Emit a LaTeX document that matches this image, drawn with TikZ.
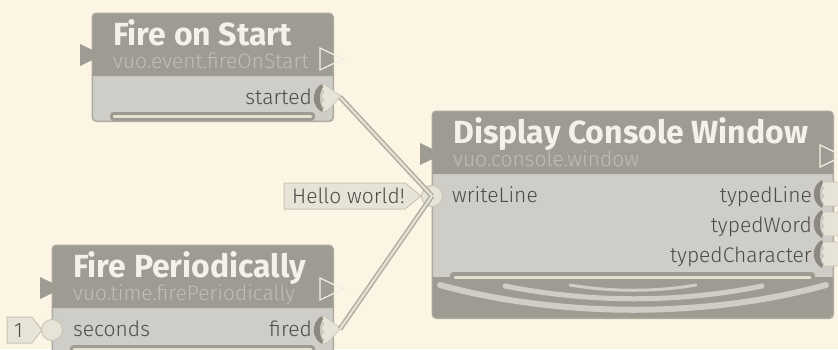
\documentclass[tikz,border=0pt]{standalone}
\usepackage{fontspec}
\setmainfont{Fira Sans}
\newfontfamily\lightfont{Fira Sans Light}
\definecolor{bg}{HTML}{FCF5E3}
\definecolor{hdr}{HTML}{9E9B93}
\definecolor{bodyc}{HTML}{CFCDC7}
\definecolor{edgec}{HTML}{ADAAA1}
\definecolor{ttl}{HTML}{F3F1EB}
\definecolor{subc}{HTML}{C0BDB5}
\definecolor{lbl}{HTML}{4C4B48}
\definecolor{pfill}{HTML}{E7E3D7}
\definecolor{pedge}{HTML}{C9C5B7}
\definecolor{arcc}{HTML}{8C8982}
\definecolor{cabedge}{HTML}{ABA79D}
\definecolor{cabcore}{HTML}{E3DFD1}
\definecolor{barin}{HTML}{E6E1CF}
\definecolor{tric}{HTML}{F2EEE3}
\tikzset{
  vbox/.style={fill=bodyc, draw=edgec, line width=1pt, rounded corners=4pt, inner sep=0pt, anchor=north west},
  vtitle/.style={text=ttl, font=\fontsize{32}{32}\selectfont\bfseries, inner sep=0pt, anchor=base west},
  vsub/.style={text=subc, font=\lightfont\fontsize{21}{21}\selectfont, inner sep=0pt, anchor=base west},
  vlbl/.style={text=lbl, font=\lightfont\fontsize{21}{21}\selectfont, inner sep=0pt},
  vconst/.style={text=lbl, font=\lightfont\fontsize{21}{21}\selectfont, inner sep=0pt, anchor=base west},
  constbox/.style={fill=pfill, draw=pedge, line width=1pt},
  inport/.style={circle, fill=pfill, draw=pedge, line width=1pt, minimum size=21pt, inner sep=0pt},
  refreshtri/.style={fill=hdr},
  outtri/.style={draw=tric, line width=1.2pt, line join=miter},
  cableout/.style={draw=cabedge, line width=5pt},
  cablein/.style={draw=cabcore, line width=2.4pt},
  barout/.style={fill=hdr, rounded corners=3.5pt},
  barinner/.style={draw=barin, line width=2.5pt, line cap=round},
  deco/.style={draw=bodyc, line cap=round},
  evtip/.pic={
    \filldraw[fill=pfill, draw=pedge, line width=0.6pt] (-1,-15) -- (4,-13) -- (20,-2) -- (7,12) -- (-1,15) -- (3,10) -- (0,6) -- (3,2) -- (0,-2) -- (3,-6) -- (0,-10) -- cycle;
    \fill[arcc] (1,-14) .. controls (-10,-8) and (-10,8) .. (1,14) -- (2,11) .. controls (-2,6) and (-2,-6) .. (2,-11) -- cycle;
  },
  evblock/.pic={
    \filldraw[fill=pfill, draw=pedge, line width=0.6pt] (-1,-14) -- (4,-12) -- (25,-12) -- (25,12) -- (4,12) -- (-1,14) -- (3,10) -- (0,6) -- (3,2) -- (0,-2) -- (3,-6) -- (0,-10) -- cycle;
    \fill[arcc] (1,-14) .. controls (-10,-8) and (-10,8) .. (1,14) -- (2,11) .. controls (-2,6) and (-2,-6) .. (2,-11) -- cycle;
  },
}
\begin{document}
\begin{tikzpicture}[x=1pt,y=-1pt]
\useasboundingbox (0,0) rectangle (838,349);
\fill[bg] (0,0) rectangle (838,349);

% ---------- Fire on Start ----------
\node[vbox, minimum width=241pt, minimum height=108pt] (fos) at (92,13) {};
\fill[hdr] (92,76) [rounded corners=4pt] -- (92,13) -- (333,13) [sharp corners] -- (333,76) -- cycle;
\fill[barout] (110,112) rectangle (315,121);
\draw[barinner] (114,116.5) -- (311,116.5);
\draw[edgec, line width=1pt, rounded corners=4pt] (92,13) rectangle (333,121);
\fill[refreshtri] (80,44) -- (103,55) -- (80,66) -- cycle;
\draw[outtri] (320,48) -- (343,59) -- (320,70) -- cycle;
\node[vtitle] (fos-title) at (113,45) {Fire on Start};
\node[vsub] (fos-sub) at (113,68) {vuo.event.fireOnStart};
\node[vlbl, anchor=base east] (fos-started) at (312,104) {started};
\pic at (321,98) {evtip};
\coordinate (fos-out) at (340,97);

% ---------- Fire Periodically ----------
\node[vbox, minimum width=281pt, minimum height=140pt] (fp) at (52,245) {};
\fill[hdr] (52,308) [rounded corners=4pt] -- (52,245) -- (333,245) [sharp corners] -- (333,308) -- cycle;
\fill[barout] (70,345) rectangle (315,356);
\draw[barinner] (74,349.5) -- (311,349.5);
\draw[edgec, line width=1pt, rounded corners=4pt] (52,245) rectangle (333,385);
\fill[refreshtri] (40,277) -- (63,288) -- (40,299) -- cycle;
\draw[outtri] (320,278) -- (343,289) -- (320,300) -- cycle;
\node[vtitle] (fp-title) at (73,277) {Fire Periodically};
\node[vsub] (fp-sub) at (73,300) {vuo.time.firePeriodically};
\node[vlbl, anchor=base west] (fp-seconds) at (73,336) {seconds};
\node[vlbl, anchor=base east] (fp-fired) at (312,336) {fired};
\pic at (321,330) {evtip};
\coordinate (fp-out) at (340,329);
\filldraw[constbox] (7,317) -- (32,317) -- (42,330) -- (32,343) -- (7,343) -- cycle;
\node[vconst] (const1) at (14,337) {1};
\node[inport] (fp-in) at (52,330) {};

% ---------- Display Console Window ----------
\node[vbox, minimum width=401pt, minimum height=207pt] (dcw) at (432,111) {};
\fill[hdr] (432,174) [rounded corners=4pt] -- (432,111) -- (833,111) [sharp corners] -- (833,174) -- cycle;
\fill[hdr] (432,277) [sharp corners] -- (833,277) [rounded corners=4pt] -- (833,318) -- (432,318) [sharp corners] -- cycle;
\fill[barout] (450,272) rectangle (815,283);
\draw[barinner] (455,277.5) -- (810,277.5);
\draw[deco, line width=6pt] (440,285) .. controls (560,318) and (708,318) .. (826,285);
\draw[deco, line width=5pt] (505,286) .. controls (590,303) and (680,303) .. (762,286);
\draw[deco, line width=3pt] (570,285) .. controls (610,292) and (656,292) .. (696,285);
\draw[edgec, line width=1pt, rounded corners=4pt] (432,111) rectangle (833,318);
\fill[refreshtri] (420,143) -- (443,154) -- (420,165) -- cycle;
\draw[outtri] (820,145) -- (843,156) -- (820,167) -- cycle;
\node[vtitle] (dcw-title) at (453,143) {Display Console Window};
\node[vsub] (dcw-sub) at (453,166) {vuo.console.window};
\node[vlbl, anchor=base west] (dcw-writeline) at (452,202) {writeLine};
\node[vlbl, anchor=base east] (dcw-typedline) at (812,202) {typedLine};
\node[vlbl, anchor=base east] (dcw-typedword) at (812,232) {typedWord};
\node[vlbl, anchor=base east] (dcw-typedchar) at (812,262) {typedCharacter};
\pic at (821,194) {evblock};
\pic at (821,224) {evblock};
\pic at (821,254) {evblock};

% constant Hello world
\filldraw[constbox] (284,183) -- (405,183) -- (421,196) -- (405,209) -- (284,209) -- cycle;
\node[vconst] (hello) at (292,203) {Hello world!};
\node[inport] (dcw-in) at (432,196) {};

% ---------- cables ----------
\draw[cableout] (fos-out) -- (dcw-in.center);
\draw[cableout] (fp-out) -- (dcw-in.center);
\draw[cablein] (fos-out) -- (dcw-in.center);
\draw[cablein] (fp-out) -- (dcw-in.center);
\end{tikzpicture}
\end{document}
